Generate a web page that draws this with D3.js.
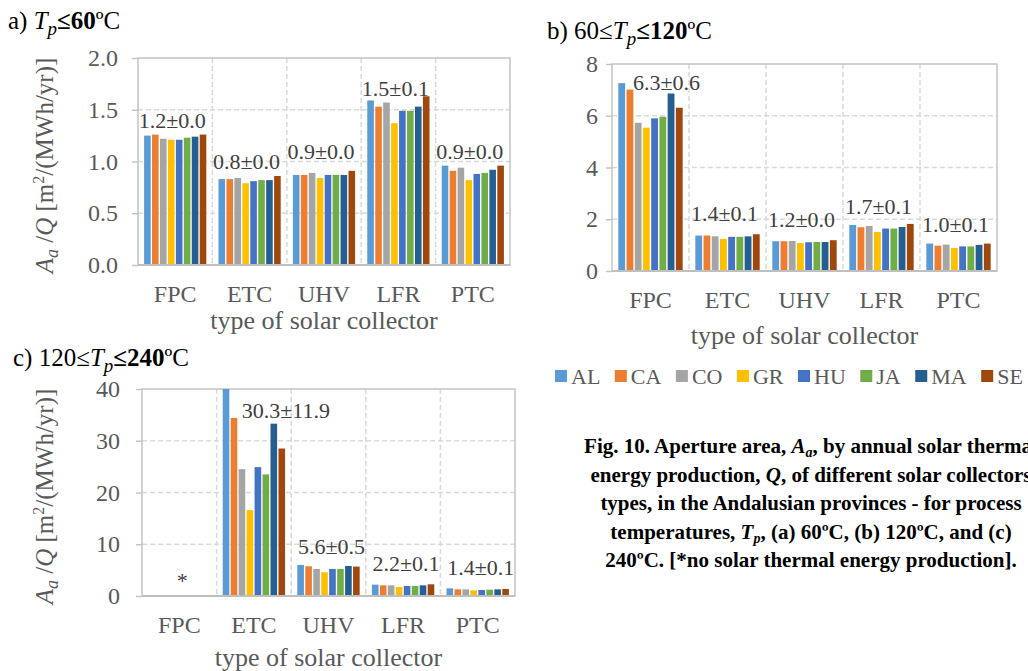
<!DOCTYPE html>
<html>
<head>
<meta charset="utf-8">
<script src="https://cdn.jsdelivr.net/npm/d3@7"></script>
<style>
  body { margin: 0; background: #fff; }
  svg { display: block; font-family: "Liberation Serif", "Times New Roman", serif; }
</style>
</head>
<body>
<script>
const categories = ["FPC", "ETC", "UHV", "LFR", "PTC"];
const provinces = ["AL", "CA", "CO", "GR", "HU", "JA", "MA", "SE"];
const colors = ["#5B9BD5", "#ED7D31", "#A5A5A5", "#FFC000", "#4472C4", "#70AD47", "#255E91", "#9E480E"];

// a) Tp <= 60 C  (one row per collector, one value per province)
const valuesA = [
  [1.25, 1.26, 1.22, 1.21, 1.21, 1.23, 1.24, 1.26],
  [0.83, 0.83, 0.84, 0.79, 0.81, 0.82, 0.82, 0.86],
  [0.87, 0.87, 0.89, 0.84, 0.87, 0.87, 0.87, 0.91],
  [1.59, 1.53, 1.57, 1.37, 1.49, 1.49, 1.53, 1.63],
  [0.96, 0.91, 0.94, 0.82, 0.88, 0.89, 0.92, 0.96],
];
const meansA = [1.2, 0.8, 0.9, 1.5, 0.9];
const sdA = [0.0, 0.0, 0.0, 0.1, 0.0];

// b) 60 <= Tp <= 120 C
const valuesB = [
  [7.26, 7.01, 5.73, 5.54, 5.90, 5.96, 6.86, 6.31],
  [1.37, 1.37, 1.34, 1.24, 1.32, 1.32, 1.34, 1.42],
  [1.15, 1.15, 1.16, 1.08, 1.11, 1.12, 1.12, 1.19],
  [1.78, 1.69, 1.74, 1.51, 1.64, 1.64, 1.70, 1.82],
  [1.06, 0.98, 1.02, 0.89, 0.95, 0.95, 1.01, 1.06],
];
const meansB = [6.3, 1.4, 1.2, 1.7, 1.0];
const sdB = [0.6, 0.1, 0.0, 0.1, 0.1];

// c) 120 <= Tp <= 240 C  (FPC: no production)
const valuesC = [
  null,
  [56.2, 34.4, 24.5, 16.6, 24.9, 23.5, 33.3, 28.5],
  [6.00, 5.74, 5.23, 4.58, 5.23, 5.23, 5.81, 5.68],
  [2.19, 2.06, 2.06, 1.74, 1.94, 1.94, 2.06, 2.26],
  [1.48, 1.29, 1.29, 1.10, 1.16, 1.23, 1.29, 1.35],
];
const meansC = [null, 30.3, 5.6, 2.2, 1.4];
const sdC = [null, 11.9, 0.5, 0.1, 0.1];

const W = 1028, H = 671;
const axisGray = "#C4C4C4";
const textGray = "#595959";

const svg = d3.select("body").append("svg").attr("width", W).attr("height", H);

function drawPanel(p) {
  const g = svg.append("g");
  const x = d3.scaleBand().domain(categories).range([p.left, p.right]);
  const bw = x.bandwidth();
  const x1 = d3.scaleBand().domain(provinces).range([bw * 0.082, bw * 0.918]).paddingInner(0.17);
  const y = d3.scaleLinear().domain([0, p.max]).range([p.bottom, p.top]);
  const ticks = d3.range(0, p.max + p.step / 2, p.step);

  // dashed grid
  g.append("g").selectAll("line").data(ticks.filter((t) => t > 0 && t < p.max)).join("line")
    .attr("x1", p.left).attr("x2", p.right)
    .attr("y1", (d) => y(d)).attr("y2", (d) => y(d))
    .attr("stroke", "#D9D9D9").attr("stroke-width", 1.5).attr("stroke-dasharray", "5,3");
  g.append("g").selectAll("line").data(categories.slice(1)).join("line")
    .attr("x1", (d) => x(d)).attr("x2", (d) => x(d))
    .attr("y1", p.top).attr("y2", p.bottom)
    .attr("stroke", "#D9D9D9").attr("stroke-width", 1.5).attr("stroke-dasharray", "5,3");

  // plot border
  g.append("rect").attr("x", p.left).attr("y", p.top)
    .attr("width", p.right - p.left).attr("height", p.bottom - p.top)
    .attr("fill", "none").attr("stroke", axisGray).attr("stroke-width", 1.5);

  // bars
  const clipId = "clip" + p.id;
  svg.append("clipPath").attr("id", clipId).append("rect")
    .attr("x", p.left).attr("y", p.top).attr("width", p.right - p.left).attr("height", p.bottom - p.top);
  const rows = [];
  p.values.forEach((vals, ci) => {
    if (!vals) return;
    vals.forEach((v, pi) => rows.push({ cat: categories[ci], prov: provinces[pi], v, color: colors[pi] }));
  });
  g.append("g").attr("clip-path", `url(#${clipId})`)
    .selectAll("rect").data(rows).join("rect")
    .attr("x", (d) => x(d.cat) + x1(d.prov))
    .attr("width", x1.bandwidth())
    .attr("y", (d) => y(d.v))
    .attr("height", (d) => y(0) - y(d.v))
    .attr("fill", (d) => d.color);

  // baseline
  g.append("line").attr("x1", p.left).attr("x2", p.right)
    .attr("y1", p.bottom).attr("y2", p.bottom)
    .attr("stroke", "#BFBFBF").attr("stroke-width", 2);

  // y axis
  const yAxis = g.append("g").attr("transform", `translate(${p.left},0)`)
    .call(d3.axisLeft(y).tickValues(ticks).tickSize(6).tickPadding(p.tickPad).tickFormat(d3.format(p.fmt)))
    .attr("font-family", null).attr("font-size", 24);
  yAxis.select(".domain").remove();
  yAxis.selectAll("line").attr("stroke", axisGray).attr("stroke-width", 1.5);
  yAxis.selectAll("text").attr("fill", textGray);

  // x axis
  const xAxis = g.append("g").attr("transform", `translate(0,${p.bottom})`)
    .call(d3.axisBottom(x).tickSize(0).tickPadding(20))
    .attr("font-family", null).attr("font-size", 24);
  xAxis.select(".domain").remove();
  xAxis.selectAll("text").attr("fill", textGray);

  g.append("text").attr("x", (p.left + p.right) / 2).attr("y", p.xTitleY)
    .attr("text-anchor", "middle").attr("font-size", 26).attr("fill", textGray)
    .text("type of solar collector");

  // data labels (mean ± sd)
  g.append("g").selectAll("text").data(categories).join("text")
    .attr("x", (d) => x(d) + bw / 2 + p.labelDx + (p.nudge[d] ? p.nudge[d][0] : 0))
    .attr("y", (d, i) => p.means[i] == null ? y(0) - 8 : y(p.means[i]) - 21 + (p.nudge[d] ? p.nudge[d][1] : 0))
    .attr("dy", (d, i) => p.means[i] == null ? 0 : "0.35em")
    .attr("text-anchor", "middle").attr("font-size", 22).attr("fill", "#404040")
    .text((d, i) => p.means[i] == null ? "*" : `${p.means[i].toFixed(1)}±${p.sds[i].toFixed(1)}`);

  // y title
  if (p.yTitle) {
    const t = g.append("text").attr("transform", `translate(44,${(p.top + p.bottom) / 2 + 4}) rotate(-90)`)
      .attr("text-anchor", "middle").attr("dy", "0.35em").attr("font-size", 25).attr("fill", textGray);
    t.append("tspan").attr("font-style", "italic").text("A");
    t.append("tspan").attr("font-style", "italic").attr("font-size", 18).attr("dy", 5).text("a");
    t.append("tspan").attr("dy", -5).text(" /");
    t.append("tspan").attr("font-style", "italic").text("Q");
    t.append("tspan").text(" [m");
    t.append("tspan").attr("font-size", 16).attr("dy", -9).text("2");
    t.append("tspan").attr("dy", 9).text("/(MWh/yr)]");
  }

  // panel title
  const tt = svg.append("text").attr("x", p.titleX).attr("y", p.titleY)
    .attr("font-size", 25).attr("fill", "#000");
  tt.append("tspan").text(p.titlePre);
  tt.append("tspan").attr("font-style", "italic").text("T");
  tt.append("tspan").attr("font-style", "italic").attr("font-size", 19).attr("dy", 6).text("p");
  tt.append("tspan").attr("dy", -6).attr("font-weight", "bold").text("≤" + p.titleNum);
  tt.append("tspan").text("ºC");
}

drawPanel({
  id: "a", left: 138, right: 510, top: 58, bottom: 265, max: 2.0, step: 0.5, fmt: ".1f", tickPad: 14,
  values: valuesA, means: meansA, sds: sdA, labelDx: -3, nudge: {},
  xTitleY: 329, yTitle: true, titleX: 8, titleY: 29, titlePre: "a) ", titleNum: "60",
});
drawPanel({
  id: "b", left: 612, right: 997, top: 64, bottom: 271, max: 8, step: 2, fmt: "d", tickPad: 8,
  values: valuesB, means: meansB, sds: sdB, labelDx: -3, nudge: { FPC: [19, -5] },
  xTitleY: 344, yTitle: false, titleX: 547, titleY: 39, titlePre: "b) 60≤", titleNum: "120",
});
drawPanel({
  id: "c", left: 142, right: 515, top: 389, bottom: 596, max: 40, step: 10, fmt: "d", tickPad: 16,
  values: valuesC, means: meansC, sds: sdC, labelDx: 3, nudge: { ETC: [29, -8] },
  xTitleY: 666, yTitle: true, titleX: 13, titleY: 366, titlePre: "c) 120≤", titleNum: "240",
});

// legend
const legend = svg.append("g");
let lx = 555;
provinces.forEach((name, i) => {
  legend.append("rect").attr("x", lx).attr("y", 370).attr("width", 12).attr("height", 12).attr("fill", colors[i]);
  const t = legend.append("text").attr("x", lx + 16).attr("y", 376).attr("dy", "0.35em")
    .attr("font-size", 22).attr("fill", textGray).text(name);
  lx += 16 + t.node().getComputedTextLength() + 14.5;
});

// caption (the page edge cuts the first two lines, as in the source figure)
const caption = svg.append("g").attr("font-weight", "bold").attr("font-size", 21).attr("fill", "#000");
const capLines = [
  [["Fig. 10. Aperture area, "], ["A", "i"], ["a", "s"], [", by annual solar thermal"]],
  [["energy production, "], ["Q", "i"], [", of different solar collectors"]],
  [["types, in the Andalusian provinces - for process"]],
  [["temperatures, "], ["T", "i"], ["p", "s"], [", (a) 60ºC, (b) 120ºC, and (c)"]],
  [["240ºC. [*no solar thermal energy production]."]],
];
capLines.forEach((parts, li) => {
  const t = caption.append("text").attr("x", 811).attr("y", 453 + li * 28.5).attr("text-anchor", "middle");
  let shifted = false;
  parts.forEach(([s, k]) => {
    const sp = t.append("tspan").text(s);
    if (k === "i" || k === "s") sp.attr("font-style", "italic");
    if (k === "s") { sp.attr("font-size", 14).attr("dy", 4); shifted = true; }
    else if (shifted) { sp.attr("dy", -4); shifted = false; }
  });
});
</script>
</body>
</html>
